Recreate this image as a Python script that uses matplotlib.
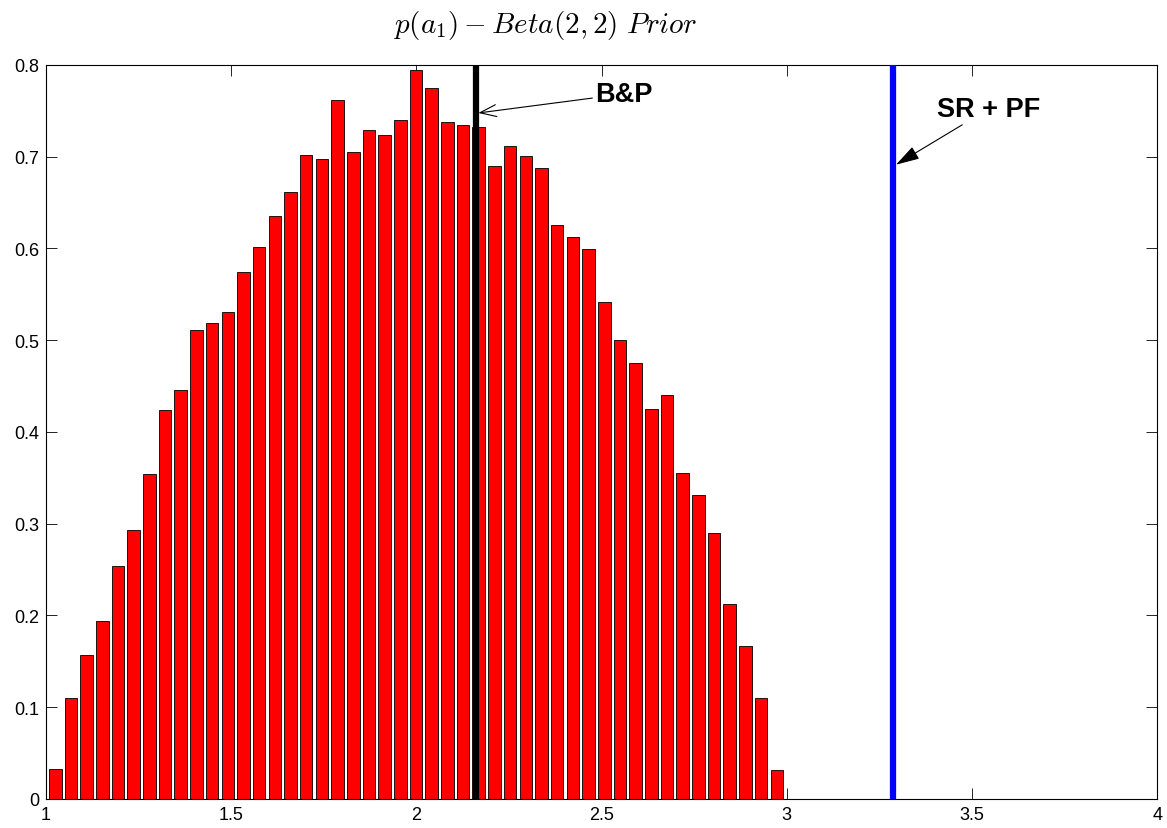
import numpy as np
import matplotlib
matplotlib.use("Agg")
import matplotlib.pyplot as plt

plt.rcParams['font.family'] = ['Liberation Sans', 'DejaVu Sans']
plt.rcParams['mathtext.fontset'] = 'cm'

# normalised histogram of the a1 prior samples (47 bins)
first_center = 1.0256
last_center = 2.973
density = [0.032, 0.110, 0.157, 0.194, 0.254, 0.293, 0.354, 0.424, 0.446, 0.511,
           0.519, 0.531, 0.574, 0.602, 0.635, 0.662, 0.702, 0.697, 0.762, 0.705,
           0.729, 0.724, 0.740, 0.795, 0.775, 0.738, 0.735, 0.732, 0.690, 0.712,
           0.701, 0.688, 0.625, 0.612, 0.599, 0.542, 0.500, 0.475, 0.425, 0.440,
           0.355, 0.331, 0.290, 0.212, 0.166, 0.110, 0.031]

# point estimates marked on top of the histogram
bp_value = 2.1605
srpf_value = 3.286

xticks = [1, 1.5, 2, 2.5, 3, 3.5, 4]
yticks = [0, 0.1, 0.2, 0.3, 0.4, 0.5, 0.6, 0.7, 0.8]

centers = np.linspace(first_center, last_center, len(density))
step = centers[1] - centers[0]

fig = plt.figure(figsize=(11.67, 8.29), dpi=100)
ax = fig.add_axes([0.0392, 0.0353, 0.9525, 0.8851])

ax.bar(centers, density, width=0.8 * step, color='#ff0000',
       edgecolor='black', linewidth=0.6, zorder=2)
ax.plot([bp_value, bp_value], [0, 0.8], color='black', linewidth=4.5, zorder=3)
ax.plot([srpf_value, srpf_value], [0, 0.8], color='#0000ff', linewidth=4.5, zorder=3)

ax.annotate('B&P', xy=(2.1676, 0.7477), xytext=(2.4826, 0.7684),
            fontsize=19.5, fontweight='bold', ha='left', va='center',
            arrowprops=dict(arrowstyle='->,head_length=0.6,head_width=0.22',
                            color='black', linewidth=0.8, shrinkA=0, shrinkB=0))
ax.annotate('SR + PF', xy=(3.2947, 0.6913), xytext=(3.405, 0.752),
            fontsize=19.5, fontweight='bold', ha='left', va='center',
            arrowprops=dict(arrowstyle='-|>,head_length=0.75,head_width=0.22',
                            color='black', linewidth=0.8, shrinkA=0, shrinkB=0))

ax.set_xlim(1, 4)
ax.set_ylim(0, 0.8)
ax.set_xticks(xticks)
ax.set_xticklabels(['1', '1.5', '2', '2.5', '3', '3.5', '4'])
ax.set_yticks(yticks)
ax.set_yticklabels(['0', '0.1', '0.2', '0.3', '0.4', '0.5', '0.6', '0.7', '0.8'])
ax.tick_params(direction='in', length=8, width=0.6, top=True, right=True,
               labelsize=13, colors='black')
ax.tick_params(axis='x', pad=5)
ax.tick_params(axis='y', pad=4.5)
for sp in ax.spines.values():
    sp.set_linewidth(0.8)

fig.text(0.467, 0.960, r'$p(a_1) - Beta(2,2)\ Prior$', fontsize=21,
         ha='center', va='baseline')

fig.savefig('out.png', dpi=100)
